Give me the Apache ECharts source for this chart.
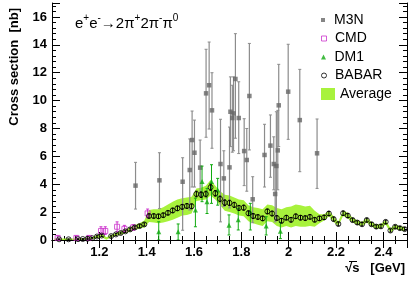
<!DOCTYPE html>
<html>
<head>
<meta charset="utf-8">
<script src="https://cdn.jsdelivr.net/npm/echarts@6/dist/echarts.min.js"></script>
<style>html,body{margin:0;padding:0;background:#fff}#c{width:415px;height:281px}</style>
</head>
<body>
<div id="c"></div>
<script>
// ---------- data ----------
const energy = [1.01,1.03,1.05,1.07,1.09,1.11,1.13,1.15,1.17,1.19,
  1.21,1.23,1.25,1.27,1.29,1.31,1.33,1.35,1.37,1.39,
  1.41,1.43,1.45,1.47,1.49,1.51,1.53,1.55,1.57,1.59,
  1.61,1.63,1.65,1.67,1.69,1.71,1.73,1.75,1.77,1.79,
  1.81,1.83,1.85,1.87,1.89,1.91,1.93,1.95,1.97,1.99,
  2.01,2.03,2.05,2.07,2.09,2.11,2.13,2.15,2.17,2.19,
  2.21,2.23,2.25,2.27,2.29,2.31,2.33,2.35,2.37,2.39,
  2.41,2.43,2.45,2.47,2.49];
const babar = [null,0.05,null,0.05,null,0.06,0.07,0.09,0.13,0.25,
  0.32,null,0.28,0.40,0.50,0.62,0.76,0.90,1.00,1.12,
  1.72,1.72,1.70,1.78,1.95,2.12,2.27,2.38,2.44,2.42,
  3.30,3.25,3.30,3.78,3.35,2.95,2.68,2.66,2.52,2.30,
  2.32,1.92,1.72,1.65,1.55,2.05,1.90,1.58,1.38,1.60,
  1.45,1.70,1.60,1.57,1.66,1.45,1.55,1.62,1.90,1.50,
  1.15,1.92,1.75,1.43,1.25,1.13,1.43,1.13,0.96,0.98,
  1.30,0.68,0.95,0.85,0.78];
const babarErr = [0.03,0.03,0.03,0.03,0.03,0.03,0.03,0.04,0.05,0.06,
  0.07,0.06,0.06,0.07,0.07,0.08,0.09,0.10,0.10,0.11,
  0.15,0.15,0.15,0.15,0.15,0.16,0.16,0.17,0.17,0.17,
  0.20,0.20,0.20,0.22,0.20,0.20,0.20,0.19,0.18,0.18,
  0.18,0.17,0.17,0.16,0.16,0.17,0.17,0.16,0.16,0.16,
  0.16,0.16,0.16,0.16,0.16,0.15,0.15,0.15,0.15,0.14,
  0.13,0.15,0.14,0.13,0.12,0.12,0.13,0.12,0.12,0.12,
  0.12,0.11,0.11,0.11,0.11];
const avgLow = [0.00,0.00,0.00,0.00,0.00,0.00,0.02,0.03,0.06,0.15,
  0.20,0.02,0.20,0.30,0.38,0.48,0.60,0.72,0.82,0.90,
  1.30,1.25,1.20,1.25,1.35,1.45,1.60,1.75,1.80,1.90,
  2.80,2.85,2.90,3.20,2.90,2.50,2.10,2.00,1.90,1.75,
  1.70,1.35,1.20,1.10,1.00,1.35,1.30,1.00,0.90,1.00,
  0.90,1.00,0.95,0.95,1.00,0.95,1.20,1.40,1.70,1.30,
  1.00,1.72,1.55,1.25,1.10,0.98,1.25,0.97,0.80,0.82,
  1.12,0.52,0.80,0.70,0.62];
const avgHigh = [0.10,0.10,0.10,0.10,0.10,0.12,0.13,0.16,0.22,0.36,
  0.45,0.20,0.36,0.50,0.62,0.76,0.92,1.08,1.20,1.40,
  2.15,2.20,2.20,2.35,2.55,2.75,2.90,3.00,3.05,3.10,
  3.70,3.75,3.90,4.30,3.90,3.50,3.25,3.20,3.05,2.90,
  2.85,2.50,2.35,2.30,2.20,2.55,2.50,2.30,2.20,2.35,
  2.40,2.55,2.50,2.40,2.45,2.10,1.85,1.85,2.10,1.70,
  1.32,2.12,1.95,1.60,1.42,1.30,1.60,1.30,1.12,1.14,
  1.46,0.84,1.10,1.00,0.94];

const m3nE  = [1.353,1.454,1.552,1.582,1.592,1.602,1.626,1.651,1.664,1.676,1.712,1.726,1.750,1.754,1.762,1.767,1.775,1.789,1.812,1.823,1.834,1.848,1.898,1.923,1.937,1.943,1.948,1.954,1.958,1.998,2.047,2.120];
const m3nY  = [3.90,4.28,4.18,5.02,7.17,6.26,5.19,10.52,11.10,9.30,5.45,4.42,5.21,9.20,8.75,9.08,11.55,8.75,6.38,5.74,10.33,2.92,6.10,6.77,5.45,3.30,5.31,6.43,9.66,10.64,8.60,6.22];
const m3nLo = [2.22,2.25,0.70,2.15,3.80,3.80,3.20,7.37,7.96,6.58,1.30,2.40,2.30,6.70,6.30,6.40,7.30,6.20,3.90,3.50,6.46,1.24,3.80,4.50,3.60,1.30,1.50,3.60,6.70,7.22,4.90,3.70];
const m3nHi = [5.57,6.26,5.90,7.25,9.25,8.60,7.17,13.68,14.20,12.00,8.66,6.40,8.10,11.70,11.10,11.70,14.80,11.35,8.70,8.00,14.10,4.54,8.30,8.97,7.40,5.38,9.20,9.30,12.60,14.04,12.24,8.68];

const cmdE  = [1.024,1.103,1.157,1.207,1.225,1.275,1.306,1.343,1.404];
const cmdY  = [0.15,0.15,0.15,0.65,0.65,0.95,0.80,0.90,1.91];
const cmdLo = [0.05,0.05,0.05,0.40,0.40,0.60,0.55,0.70,1.60];
const cmdHi = [0.30,0.30,0.30,0.95,0.95,1.30,1.05,1.10,2.22];

const dm1E  = [1.451,1.533,1.606,1.634,1.655,1.674,1.700,1.748,1.787,1.838,1.905,1.965];
const dm1Y  = [0.60,0.60,2.15,4.20,2.75,4.20,3.59,1.05,1.45,2.03,1.00,0.62];
const dm1Lo = [0.00,0.00,0.95,2.75,1.90,2.63,2.50,0.36,0.72,0.72,0.36,0.10];
const dm1Hi = [1.31,1.15,3.00,5.30,3.70,5.40,4.42,1.80,2.27,2.63,1.67,1.27];

const xTicks = {min:1.0, max:2.5, interval:0.2};
const yTicks = {min:0, max:17, interval:2};

// ---------- styles ----------
const FONT = 'Liberation Sans';
const BAND = '#a8f23c';
const GREY = '#666666';
const MAG = '#cc33cc';
const GREEN = '#11aa11';

function errSeries(name, xs, lo, hi, color, width, cap, z) {
  const data = [];
  xs.forEach((x, i) => { if (lo[i] != null && hi[i] != null) data.push([x, lo[i], hi[i]]); });
  return {
    type: 'custom', name: name, z: z, silent: true, clip: true,
    data: data, encode: {x: 0, y: [1, 2]},
    renderItem: function (params, api) {
      const x = api.value(0);
      const p1 = api.coord([x, api.value(1)]);
      const p2 = api.coord([x, api.value(2)]);
      return {type: 'group', children: [
        {type: 'line', shape: {x1: p1[0], y1: p1[1], x2: p2[0], y2: p2[1]}, style: {stroke: color, lineWidth: width}},
        {type: 'line', shape: {x1: p1[0] - cap, y1: p1[1], x2: p1[0] + cap, y2: p1[1]}, style: {stroke: color, lineWidth: 1}},
        {type: 'line', shape: {x1: p2[0] - cap, y1: p2[1], x2: p2[0] + cap, y2: p2[1]}, style: {stroke: color, lineWidth: 1}}
      ]};
    }
  };
}

const babarPts = [], babarLo = [], babarHi = [], babarX = [];
energy.forEach((e, i) => {
  if (babar[i] != null) {
    babarPts.push([e, babar[i]]);
    babarX.push(e); babarLo.push(babar[i] - babarErr[i]); babarHi.push(babar[i] + babarErr[i]);
  }
});

const axisCommon = {
  type: 'value', scale: false,
  axisLine: {show: true, lineStyle: {color: '#000', width: 1}},
  axisTick: {show: true, inside: true, length: 8, lineStyle: {color: '#000'}},
  minorTick: {show: true, length: 4, lineStyle: {color: '#000'}},
  splitLine: {show: false}
};

const chart = echarts.init(document.getElementById('c'), null, {renderer: 'canvas'});
const sqPath = 'path://M0,0L5,0L5,5L0,5Z';
function legendItem(name, top, icon, style, w, h) {
  return {
    left: 321, top: top, orient: 'vertical', itemWidth: w || 12, itemHeight: h || 5,
    selectedMode: false, padding: 0,
    textStyle: {fontFamily: FONT, fontSize: 14, color: '#000', lineHeight: 14},
    data: [{name: name, icon: icon, itemStyle: style}]
  };
}

chart.setOption({
  animation: false,
  backgroundColor: '#fff',
  grid: {left: 52, right: 8, top: 3, bottom: 41, containLabel: false},
  xAxis: [
    Object.assign({}, axisCommon, xTicks, {position: 'bottom',
      minorTick: Object.assign({}, axisCommon.minorTick, {splitNumber: 4}),
      axisLabel: {show: true, margin: 6, fontFamily: FONT, fontWeight: 'bold', fontSize: 13, color: '#000',
        formatter: v => (v < 1.05 || v > 2.45) ? '' : String(+v.toFixed(1))}}),
    Object.assign({}, axisCommon, xTicks, {position: 'top',
      minorTick: Object.assign({}, axisCommon.minorTick, {splitNumber: 4}),
      axisLabel: {show: false}})
  ],
  yAxis: [
    Object.assign({}, axisCommon, yTicks, {position: 'left',
      minorTick: Object.assign({}, axisCommon.minorTick, {splitNumber: 5}),
      axisLabel: {show: true, margin: 5, fontFamily: FONT, fontWeight: 'bold', fontSize: 13, color: '#000',
        formatter: v => (v > 16.5) ? '' : String(Math.round(v))}}),
    Object.assign({}, axisCommon, yTicks, {position: 'right',
      minorTick: Object.assign({}, axisCommon.minorTick, {splitNumber: 5}),
      axisLabel: {show: false}})
  ],
  legend: [
    legendItem('M3N', 13, sqPath, {color: GREY, borderWidth: 0}, 12, 4),
    legendItem('CMD', 31.5, sqPath, {color: 'rgba(0,0,0,0)', borderColor: MAG, borderWidth: 1}),
    legendItem('DM1', 50, 'path://M2.5,0L5,5L0,5Z', {color: GREEN, borderWidth: 0}),
    legendItem('BABAR', 68.5, 'circle', {color: 'rgba(0,0,0,0)', borderColor: '#000', borderWidth: 1}),
    legendItem('Average', 87, 'rect', {color: BAND, borderWidth: 0}, 14, 12)
  ],
  graphic: [
    {type: 'text', x: 14, y: 8, rotation: Math.PI / 2, z: 100,
      style: {text: 'Cross section  [nb]', font: 'bold 13px "Liberation Sans"', fill: '#000',
        textAlign: 'right', textVerticalAlign: 'middle'}},
    {type: 'text', x: 405, y: 268, z: 100,
      style: {text: '\u221As   [GeV]', font: 'bold 13px "Liberation Sans"', fill: '#000',
        textAlign: 'right', textVerticalAlign: 'middle'}},
    {type: 'line', z: 100, shape: {x1: 349, y1: 261.5, x2: 357, y2: 261.5}, style: {stroke: '#000', lineWidth: 1}},
    {type: 'text', x: 75, y: 22, z: 100,
      style: {
        text: '{n|e}{s|+}{n|e}{s|-}{n|\u21922\u03C0}{s|+}{n|2\u03C0}{s|-}{n|\u03C0}{s|0}',
        textVerticalAlign: 'middle', textAlign: 'left',
        rich: {
          n: {fontFamily: FONT, fontSize: 15, color: '#000', lineHeight: 18, verticalAlign: 'bottom'},
          s: {fontFamily: FONT, fontSize: 10, color: '#000', lineHeight: 18, verticalAlign: 'top', padding: [0, 0, 7, 0]}
        }
      }}
  ],
  series: [
    {
      type: 'custom', name: 'Average', z: 1, silent: true, clip: true,
      itemStyle: {color: BAND},
      data: energy.map((e, i) => [e, avgLow[i], avgHigh[i]]),
      encode: {x: 0, y: [1, 2]},
      renderItem: function (params, api) {
        if (params.dataIndex !== 0) return null;
        const pts = [];
        for (let i = 0; i < energy.length; i++) pts.push(api.coord([energy[i], avgHigh[i]]));
        for (let i = energy.length - 1; i >= 0; i--) pts.push(api.coord([energy[i], avgLow[i]]));
        return {type: 'polygon', shape: {points: pts}, style: {fill: BAND, stroke: null}};
      }
    },
    errSeries('m3n_err', m3nE, m3nLo, m3nHi, '#8c8c8c', 1.2, 1.5, 2),
    {type: 'scatter', name: 'M3N', z: 3, symbol: 'rect', symbolSize: 4.5, silent: true,
      itemStyle: {color: GREY}, data: m3nE.map((e, i) => [e, m3nY[i]])},
    errSeries('cmd_err', cmdE, cmdLo, cmdHi, MAG, 1, 1.5, 4),
    {type: 'scatter', name: 'CMD', z: 5, symbol: 'rect', symbolSize: 5, silent: true,
      itemStyle: {color: 'rgba(0,0,0,0)', borderColor: MAG, borderWidth: 1}, data: cmdE.map((e, i) => [e, cmdY[i]])},
    errSeries('dm1_err', dm1E, dm1Lo, dm1Hi, GREEN, 1, 1.5, 6),
    {type: 'scatter', name: 'DM1', z: 7, symbol: 'triangle', symbolSize: 5, silent: true,
      itemStyle: {color: GREEN}, data: dm1E.map((e, i) => [e, dm1Y[i]])},
    errSeries('babar_err', babarX, babarLo, babarHi, '#000', 1, 1.2, 8),
    {type: 'scatter', name: 'BABAR', z: 9, symbol: 'circle', symbolSize: 5, silent: true,
      itemStyle: {color: 'rgba(0,0,0,0)', borderColor: '#000', borderWidth: 1}, data: babarPts}
  ]
});
</script>
</body>
</html>
